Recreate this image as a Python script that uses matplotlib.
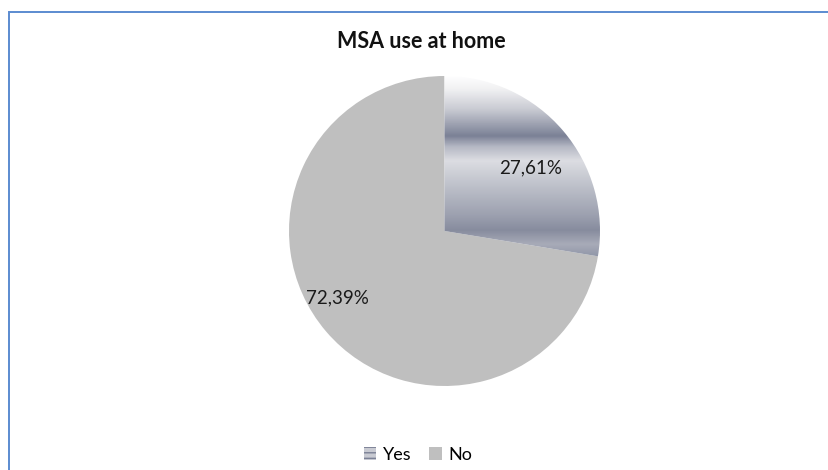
import numpy as np
import matplotlib.pyplot as plt
from matplotlib.colors import LinearSegmentedColormap, to_rgb
from matplotlib.patches import Rectangle, Patch

plt.rcParams['font.family'] = ['Lato', 'DejaVu Sans']

# data
categories = ['Yes', 'No']
shares = [27.61, 72.39]
pct_labels = ['27,61%', '72,39%']
title = 'MSA use at home'

# metallic band fill for the "Yes" slice (height in pie radius units, colour)
band_stops = [(1.00, '#ffffff'), (0.91, '#f0f0f2'), (0.78, '#c8cad2'),
              (0.61, '#7b8196'), (0.54, '#b5b8c4'), (0.45, '#dcdde2'),
              (0.30, '#c0c3cc'), (0.10, '#9da1b0'), (0.00, '#878c9e'),
              (-0.09, '#a8abb8'), (-0.17, '#9096a8')]
no_color = '#bfbfbf'

fig = plt.figure(figsize=(8.29, 4.70), dpi=100)

# outer frame of the chart area
fig.patches.append(Rectangle((9 / 829, -0.1), 1.0, 1 - 12 / 470 + 0.1,
                             transform=fig.transFigure, fill=False,
                             edgecolor='#5b8bd0', linewidth=1.4))

ax = fig.add_axes([289 / 829, 84 / 470, 311 / 829, 310 / 470])
wedges, _ = ax.pie(shares, startangle=90, counterclock=False, radius=1,
                   colors=['none', no_color], wedgeprops=dict(linewidth=0))
ax.set_aspect('auto')

# gradient image clipped to the "Yes" wedge
lo, hi = band_stops[-1][0], band_stops[0][0]
stops = sorted(((y - lo) / (hi - lo), to_rgb(c)) for y, c in band_stops)
cmap = LinearSegmentedColormap.from_list('band', stops)
grad = np.linspace(0, 1, 400).reshape(-1, 1)
img = ax.imshow(grad, cmap=cmap, origin='lower', aspect='auto',
                extent=[0, 1.05, lo, hi], interpolation='bilinear', zorder=1)
img.set_clip_path(wedges[0])
ax.set_xlim(-1, 1)
ax.set_ylim(-1, 1)

# percentage labels
label_xy = [(0.555, 0.41), (-0.69, -0.43)]
for (x, y), t in zip(label_xy, pct_labels):
    ax.text(x, y, t, ha='center', va='center', fontsize=13.5, color='#1a1a1a', zorder=3)

fig.text(421 / 829, 1 - 42 / 470, title, ha='center', va='center',
         fontsize=15.5, fontweight='bold', color='#111111')

plt.rcParams['hatch.color'] = '#7b8196'
handles = [Patch(facecolor='#c8cad2', edgecolor='#7b8196', hatch='---', linewidth=0),
           Patch(facecolor=no_color, edgecolor='none')]
fig.legend(handles, categories, loc='center', bbox_to_anchor=(418 / 829, 1 - 455 / 470),
           ncol=2, frameon=False, fontsize=13, handlelength=0.7, handleheight=0.7,
           handletextpad=0.35, columnspacing=1.0)

plt.savefig('out.png', dpi=100)
